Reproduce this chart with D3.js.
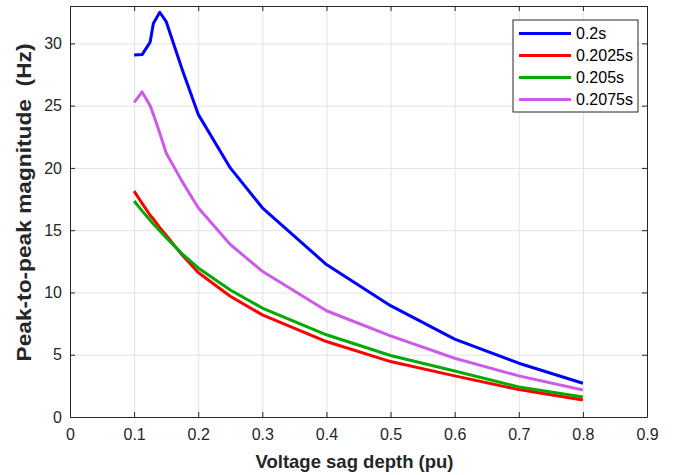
<!DOCTYPE html>
<html>
<head>
<meta charset="utf-8">
<script src="https://cdn.jsdelivr.net/npm/d3@7"></script>
<style>
  body { margin: 0; background: #fff; }
  .chart text { font-family: "Liberation Sans", Arial, sans-serif; }
</style>
</head>
<body>
<div class="chart"></div>
<script>
// sag depth values (pu), shared by all series
const depth = [0.1, 0.1125, 0.125, 0.13, 0.14, 0.15, 0.175, 0.2, 0.25, 0.3, 0.4, 0.5, 0.6, 0.7, 0.8];

const s0200  = [29.07, 29.1, 30.1, 31.6, 32.5, 31.75, 27.9, 24.3, 20.0, 16.8, 12.24, 8.94, 6.25, 4.32, 2.71];
const s02025 = [18.14, 17.15, 16.2, 15.9, 15.2, 14.6, 13.0, 11.6, 9.7, 8.2, 6.06, 4.45, 3.3, 2.2, 1.37];
const s0205  = [17.34, 16.55, 15.8, 15.5, 14.95, 14.4, 13.1, 11.97, 10.2, 8.75, 6.6, 4.94, 3.7, 2.42, 1.6];
const s02075 = [25.26, 26.1, 25.0, 24.3, 22.8, 21.2, 18.9, 16.8, 13.85, 11.7, 8.53, 6.52, 4.72, 3.3, 2.17];

const seriesNames = ["0.2s", "0.2025s", "0.205s", "0.2075s"];
const seriesValues = [s0200, s02025, s0205, s02075];
const colors = ["#0000ff", "#ff0000", "#00aa00", "#cc5ce8"];

const xTicks = [0, 0.1, 0.2, 0.3, 0.4, 0.5, 0.6, 0.7, 0.8, 0.9];
const yTicks = [0, 5, 10, 15, 20, 25, 30];

const W = 676, H = 475;
const margin = {top: 6, right: 29, bottom: 58, left: 70};
const width = W - margin.left - margin.right,
      height = H - margin.top - margin.bottom;
const axisColor = "#262626";

const svg = d3.select(".chart").append("svg")
    .attr("width", W)
    .attr("height", H)
  .append("g")
    .attr("transform", `translate(${margin.left},${margin.top})`);

const xScale = d3.scaleLinear().domain([0, 0.9]).range([0, width]);
const yScale = d3.scaleLinear().domain([0, 33]).range([height, 0]);

// grid
svg.append("g")
    .attr("class", "grid")
    .attr("transform", `translate(0,${height})`)
    .call(d3.axisBottom(xScale).tickValues(xTicks).tickSize(-height).tickFormat(""));
svg.append("g")
    .attr("class", "grid")
    .call(d3.axisLeft(yScale).tickValues(yTicks).tickSize(-width).tickFormat(""));
svg.selectAll(".grid .domain").remove();
svg.selectAll(".grid line").attr("stroke", "#e3e3e3");

// lines
const line = d3.line()
    .x((d, i) => xScale(depth[i]))
    .y(d => yScale(d));

svg.selectAll(".series")
    .data(seriesValues)
    .enter()
    .append("path")
    .attr("class", "series")
    .attr("d", d => line(d))
    .attr("fill", "none")
    .attr("stroke", (d, i) => colors[i])
    .attr("stroke-width", 3)
    .attr("stroke-linejoin", "round");

// axes (MATLAB style box, inward ticks)
const xAxis = d3.axisBottom(xScale).tickValues(xTicks).tickSize(-5).tickSizeOuter(0).tickPadding(12).tickFormat(d3.format("~g"));
const yAxis = d3.axisLeft(yScale).tickValues(yTicks).tickSize(-5).tickSizeOuter(0).tickPadding(8);

svg.append("g")
    .attr("class", "axis x-axis")
    .attr("transform", `translate(0,${height})`)
    .call(xAxis);
svg.append("g")
    .attr("class", "axis y-axis")
    .call(yAxis);
svg.append("g")
    .attr("class", "axis")
    .call(d3.axisTop(xScale).tickValues(xTicks).tickSize(-5).tickSizeOuter(0).tickFormat(""));
svg.append("g")
    .attr("class", "axis")
    .attr("transform", `translate(${width},0)`)
    .call(d3.axisRight(yScale).tickValues(yTicks).tickSize(-5).tickSizeOuter(0).tickFormat(""));

svg.selectAll(".axis .domain, .axis .tick line").attr("stroke", axisColor);
svg.selectAll(".axis .tick text")
    .attr("fill", axisColor)
    .attr("font-size", 16);

// axis labels
svg.append("text")
    .attr("x", width / 2 - 4)
    .attr("y", height + 51)
    .attr("text-anchor", "middle")
    .attr("font-size", 18.5)
    .attr("font-weight", "bold")
    .attr("fill", axisColor)
    .text("Voltage sag depth (pu)");

svg.append("text")
    .attr("transform", `translate(${-39},${height / 2 - 9})rotate(-90)`)
    .attr("text-anchor", "middle")
    .attr("font-size", 20)
    .attr("font-weight", "bold")
    .attr("fill", axisColor)
    .attr("textLength", 318)
    .attr("lengthAdjust", "spacingAndGlyphs")
    .style("white-space", "pre")
    .text("Peak-to-peak magnitude  (Hz)");

// legend
const legend = svg.append("g")
    .attr("transform", `translate(${513 - margin.left},${20 - margin.top})`);
legend.append("rect")
    .attr("width", 125)
    .attr("height", 92)
    .attr("fill", "#fff")
    .attr("stroke", axisColor)
    .attr("stroke-width", 1);
const rows = legend.selectAll(".row")
    .data(seriesNames)
    .enter()
    .append("g")
    .attr("transform", (d, i) => `translate(0,${13.5 + i * 22})`);
rows.append("line")
    .attr("x1", 6)
    .attr("x2", 58)
    .attr("stroke", (d, i) => colors[i])
    .attr("stroke-width", 3);
rows.append("text")
    .attr("x", 63)
    .attr("dy", "0.36em")
    .attr("font-size", 16)
    .attr("fill", "#000")
    .text(d => d);
</script>
</body>
</html>
